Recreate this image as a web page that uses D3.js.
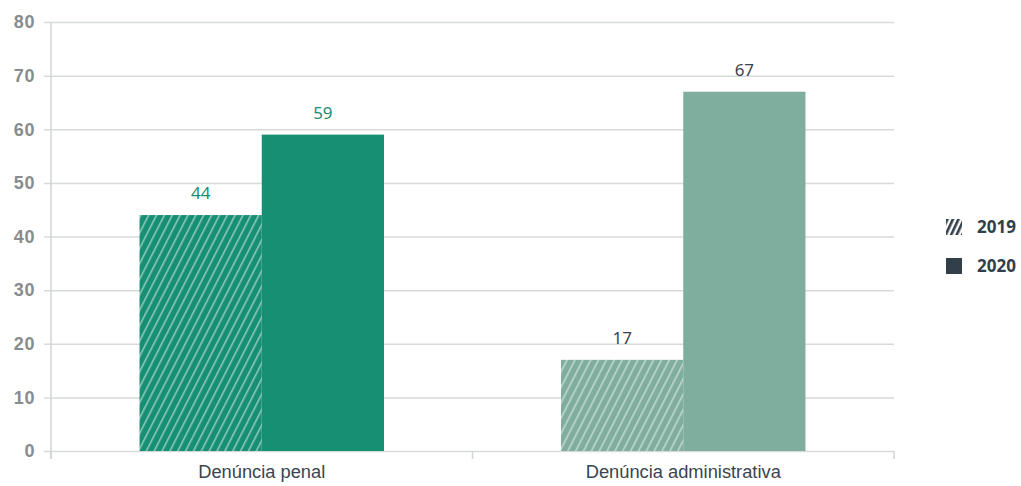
<!DOCTYPE html>
<html><head><meta charset="utf-8">
<script src="https://cdn.jsdelivr.net/npm/d3@7"></script>
<style>body{margin:0;background:#fff}svg{display:block;font-family:"Noto Sans",Roboto,sans-serif}</style>
</head><body>
<svg id="c" width="1021" height="486"></svg>
<script>
const categories = ["Denúncia penal", "Denúncia administrativa"];
const years = ["2019", "2020"];
const values2019 = [44, 17];
const values2020 = [59, 67];
const yTicks = [0, 10, 20, 30, 40, 50, 60, 70, 80];
const groupColors = ["#178f72", "#7fae9e"];
const labelColors = ["#178f72", "#3a4450"];

const svg = d3.select("#c");
const x0 = d3.scaleBand().domain(categories).range([51, 894]).paddingInner(0.42).paddingOuter(0.21);
const x1 = d3.scaleBand().domain(years).range([0, x0.bandwidth()]);
const y = d3.scaleLinear().domain([0, 80]).range([451, 22]);

const defs = svg.append("defs");
groupColors.forEach((c, i) => {
  const p = defs.append("pattern").attr("id", "hatch" + i).attr("patternUnits", "userSpaceOnUse")
    .attr("width", 7).attr("height", 7).attr("patternTransform", "rotate(27)");
  p.append("rect").attr("width", 7).attr("height", 7).attr("fill", c);
  p.append("rect").attr("x", 0).attr("width", 1.6).attr("height", 7).attr("fill", "rgba(255,255,255,0.5)");
});
const lp = defs.append("pattern").attr("id", "hatchL").attr("patternUnits", "userSpaceOnUse")
  .attr("width", 5).attr("height", 5).attr("patternTransform", "rotate(25)");
lp.append("rect").attr("width", 5).attr("height", 5).attr("fill", "#fff");
lp.append("rect").attr("width", 2.6).attr("height", 5).attr("fill", "#323e4a");

// grid + y axis
const yAxis = d3.axisLeft(y).tickValues(yTicks).tickSize(-(894 - 44)).tickPadding(10);
const gy = svg.append("g").attr("transform", "translate(44,0)").call(yAxis);
gy.select(".domain").remove();
gy.selectAll(".tick line").attr("stroke", "#d6dbd9").attr("stroke-width", 1.5);
gy.selectAll(".tick text").attr("fill", "#888c8c").attr("font-size", 18).attr("font-weight", 700)
  .attr("letter-spacing", 0.6).attr("x", -9);

// vertical axis line
svg.append("line").attr("x1", 51).attr("x2", 51).attr("y1", 22).attr("y2", 459).attr("stroke", "#d0d4d3").attr("stroke-width", 1.5);

// x axis
const xAxis = d3.axisBottom(x0).tickSize(0).tickPadding(14);
const gx = svg.append("g").attr("transform", "translate(0,451)").call(xAxis);
gx.select(".domain").remove();
gx.selectAll(".tick text").attr("fill", "#3a4450").attr("font-size", 18.3);
[51, 472.5, 894].forEach(xx => svg.append("line").attr("x1", xx).attr("x2", xx).attr("y1", 451).attr("y2", 459).attr("stroke", "#d0d4d3").attr("stroke-width", 1.5));

// bars
categories.forEach((cat, i) => {
  const g = svg.append("g").attr("transform", `translate(${x0(cat)},0)`);
  const vals = [values2019[i], values2020[i]];
  vals.forEach((v, j) => {
    g.append("rect").attr("x", x1(years[j])).attr("width", x1.bandwidth())
      .attr("y", y(v)).attr("height", y(0) - y(v))
      .attr("fill", j === 0 ? `url(#hatch${i})` : groupColors[i]);
    g.append("text").attr("x", x1(years[j]) + x1.bandwidth() / 2).attr("y", y(v) - 16)
      .attr("text-anchor", "middle").attr("font-size", 17).attr("fill", labelColors[i]).text(v);
  });
});

// legend
const leg = svg.append("g");
years.forEach((yr, j) => {
  const ly = 219 + j * 39;
  leg.append("rect").attr("x", 946).attr("y", ly).attr("width", 16).attr("height", 16)
    .attr("fill", j === 0 ? "url(#hatchL)" : "#323e4a");
  leg.append("text").attr("x", 977).attr("y", ly + 14).attr("font-size", 17).attr("font-weight", 700)
    .attr("fill", "#323e4a").text(yr);
});
</script>
</body></html>
